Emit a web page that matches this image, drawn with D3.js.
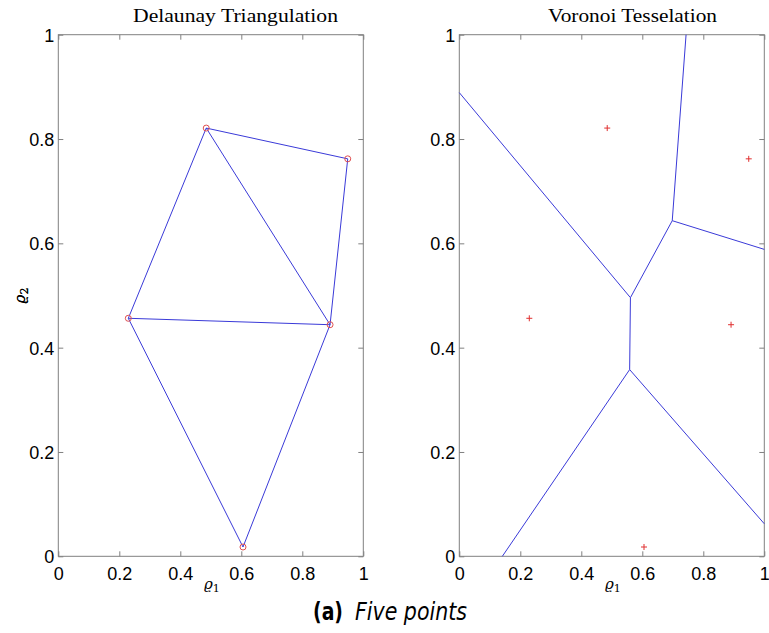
<!DOCTYPE html>
<html>
<head>
<meta charset="utf-8">
<script src="https://cdn.jsdelivr.net/npm/d3@7"></script>
<style>
  body { margin: 0; background: #fff; }
  .tick text { font-family: "Liberation Sans", Arial, sans-serif; font-size: 18px; fill: #000; }
</style>
</head>
<body>
<div id="viz-container"></div>
<script>
// the five points (rho1, rho2)
let rho1 = [0.2295, 0.485, 0.949, 0.891, 0.6056];
let rho2 = [0.4563, 0.821, 0.762, 0.444, 0.0178];
let tickVals = [0, 0.2, 0.4, 0.6, 0.8, 1];
let titles = ["Delaunay Triangulation", "Voronoi Tesselation"];

let points = rho1.map((d, i) => [d, rho2[i]]);

let viz = d3.select("#viz-container")
            .append("svg")
              .attr("width", 769)
              .attr("height", 633)
;

let panels = [
  {left: 58.3, title: titles[0], titleX: 235.5, titleW: 205, kind: "delaunay"},
  {left: 459.3, title: titles[1], titleX: 632.5, titleW: 169, kind: "voronoi"}
];
let w = 305, yTop = 34.7, yBottom = 556.3;

let delaunay = d3.Delaunay.from(points);
let voronoi = delaunay.voronoi([0, 0, 1, 1]);

panels.forEach(p => {
  let x = d3.scaleLinear().domain([0, 1]).range([p.left, p.left + w]);
  let y = d3.scaleLinear().domain([0, 1]).range([yBottom, yTop]);
  let g = viz.append("g");

  // frame
  g.append("rect")
      .attr("x", x(0)).attr("y", y(1))
      .attr("width", w).attr("height", yBottom - yTop)
      .attr("fill", "none").attr("stroke", "#808080").attr("stroke-width", 1);

  // axes with inward ticks
  let fmt = d => d == 0 || d == 1 ? d3.format("d")(d) : d3.format(".1f")(d);
  let xAx = g.append("g").attr("transform", "translate(0," + yBottom + ")")
      .call(d3.axisBottom(x).tickValues(tickVals).tickFormat(fmt).tickSizeInner(-5).tickSizeOuter(0).tickPadding(8));
  let yAx = g.append("g").attr("transform", "translate(" + x(0) + ",0)")
      .call(d3.axisLeft(y).tickValues(tickVals).tickFormat(fmt).tickSizeInner(-5).tickSizeOuter(0).tickPadding(4));
  g.append("g").attr("transform", "translate(0," + yTop + ")")
      .call(d3.axisTop(x).tickValues(tickVals).tickFormat("").tickSizeInner(-5).tickSizeOuter(0));
  g.append("g").attr("transform", "translate(" + (x(0) + w) + ",0)")
      .call(d3.axisRight(y).tickValues(tickVals).tickFormat("").tickSizeInner(-5).tickSizeOuter(0));
  g.selectAll(".domain").remove();
  g.selectAll(".tick line").attr("stroke", "#808080");
  xAx.selectAll(".tick text").attr("dy", "0.9em");
  yAx.selectAll(".tick text").attr("dy", "0.36em");

  // title and labels
  g.append("text")
      .attr("x", p.titleX - p.titleW / 2).attr("y", 22)
      .attr("font-family", "'Liberation Serif', 'DejaVu Serif', serif")
      .attr("font-size", 19)
      .attr("textLength", p.titleW)
      .attr("lengthAdjust", "spacingAndGlyphs")
      .text(p.title);
  g.append("text")
      .attr("x", x(0.5) + 1).attr("y", 589)
      .attr("text-anchor", "middle")
      .attr("font-family", "'DejaVu Serif', serif")
      .attr("font-style", "italic")
      .attr("font-size", 15)
      .html("ϱ<tspan font-style='normal' font-size='11' dy='3'>1</tspan>");
  g.append("text")
      .attr("transform", "translate(25," + y(0.5) + ") rotate(-90)")
      .attr("text-anchor", "middle")
      .attr("font-family", "'DejaVu Serif', serif")
      .attr("font-style", "italic")
      .attr("font-size", 15)
      .html("ϱ<tspan font-style='normal' font-size='11' dy='3'>2</tspan>");

  // mesh drawn through the scales
  let path = d3.path();
  let ctx = {
    moveTo: (a, b) => path.moveTo(x(a), y(b)),
    lineTo: (a, b) => path.lineTo(x(a), y(b)),
    closePath: () => path.closePath()
  };
  if (p.kind == "delaunay") delaunay.render(ctx);
  else voronoi.render(ctx);
  g.append("path")
      .attr("d", path.toString())
      .attr("fill", "none")
      .attr("stroke", "#3a3ad8")
      .attr("stroke-width", 1);

  if (p.kind == "delaunay") {
    g.selectAll("circle").data(points).enter().append("circle")
        .attr("cx", d => x(d[0]))
        .attr("cy", d => y(d[1]))
        .attr("r", 3)
        .attr("fill", "none")
        .attr("stroke", "#e05050")
        .attr("stroke-width", 1);
  } else {
    g.selectAll(".plus").data(points).enter().append("path")
        .attr("class", "plus")
        .attr("d", d => "M" + (x(d[0]) - 3) + "," + y(d[1]) + "h6M" + x(d[0]) + "," + (y(d[1]) - 3) + "v6")
        .attr("stroke", "#e03030")
        .attr("stroke-width", 1);
  }
});

// caption
viz.append("text")
    .attr("x", 313).attr("y", 620)
    .attr("font-family", "'DejaVu Sans', sans-serif")
    .attr("font-size", 24)
    .attr("font-weight", "bold")
    .attr("textLength", 30)
    .attr("lengthAdjust", "spacingAndGlyphs")
    .text("(a)");
viz.append("text")
    .attr("x", 355).attr("y", 620)
    .attr("font-family", "'DejaVu Sans', sans-serif")
    .attr("font-size", 24)
    .attr("font-style", "italic")
    .attr("textLength", 112)
    .attr("lengthAdjust", "spacingAndGlyphs")
    .text("Five points");
</script>
</body>
</html>
